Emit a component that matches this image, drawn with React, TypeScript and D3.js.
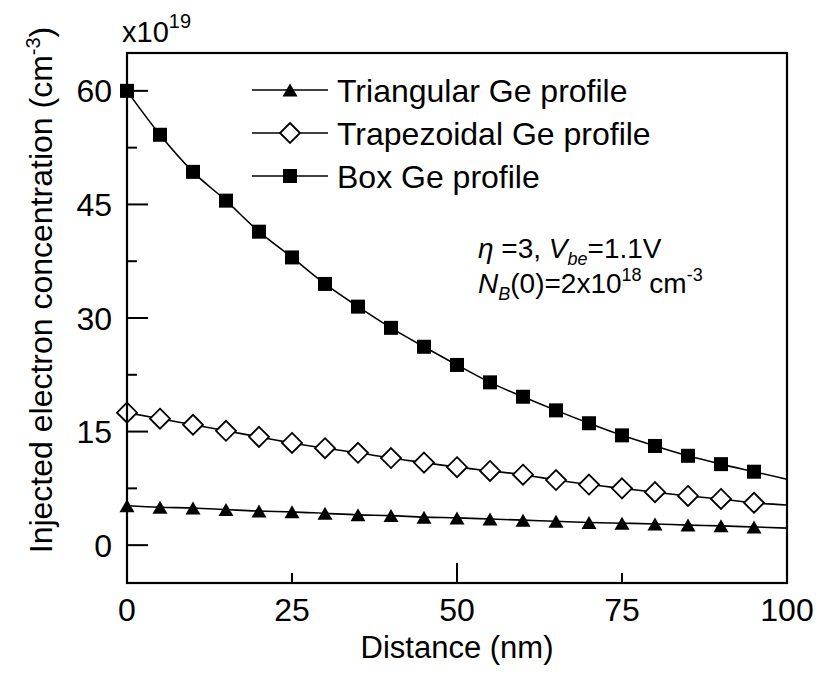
import React from "react";
import * as d3 from "d3";

// Distance from the emitter-base junction (nm)
const distance = [0, 5, 10, 15, 20, 25, 30, 35, 40, 45, 50, 55, 60, 65, 70, 75, 80, 85, 90, 95, 100];

// Injected electron concentration, in units of 1e19 cm^-3
const triangular = [5.2, 5.0, 4.9, 4.7, 4.5, 4.4, 4.2, 4.0, 3.9, 3.7, 3.6, 3.45, 3.3, 3.15, 3.0, 2.9, 2.8, 2.65, 2.55, 2.4, 2.25];
const trapezoidal = [17.5, 16.7, 15.9, 15.1, 14.3, 13.5, 12.8, 12.2, 11.5, 10.9, 10.3, 9.8, 9.3, 8.6, 8.0, 7.5, 7.0, 6.5, 6.1, 5.6, 5.3];
const box = [60, 54.2, 49.3, 45.5, 41.4, 38.0, 34.5, 31.5, 28.7, 26.2, 23.8, 21.5, 19.6, 17.8, 16.1, 14.5, 13.1, 11.8, 10.7, 9.7, 8.7];

const xTicks = [0, 25, 50, 75, 100];
const xMajor = [50];
const yTicks = [0, 15, 30, 45, 60];
const yMinor = [7.5, 22.5, 37.5, 52.5];

const legendLabels = ["Triangular Ge profile", "Trapezoidal Ge profile", "Box Ge profile"];

const W = 820;
const H = 674;
const M = { left: 127, right: 787, top: 53, bottom: 583 };
const FONT = "'Liberation Sans', Arial, Helvetica, sans-serif";

type MarkerKind = "triangle" | "diamond" | "square";

function Marker({ kind, cx, cy }: { kind: MarkerKind; cx: number; cy: number }) {
  if (kind === "square") {
    const s = 14;
    return <rect x={cx - s / 2} y={cy - s / 2} width={s} height={s} fill="#000" />;
  }
  if (kind === "diamond") {
    const r = 10;
    return (
      <path
        d={`M${cx},${cy - r}L${cx + r},${cy}L${cx},${cy + r}L${cx - r},${cy}Z`}
        fill="#fff"
        stroke="#000"
        strokeWidth={1.8}
      />
    );
  }
  const hw = 7.5;
  const hh = 6.5;
  return <path d={`M${cx},${cy - hh}L${cx + hw},${cy + hh}L${cx - hw},${cy + hh}Z`} fill="#000" />;
}

export default function App() {
  const x = d3.scaleLinear().domain([0, 100]).range([M.left, M.right]);
  const y = d3.scaleLinear().domain([-5, 65]).range([M.bottom, M.top]);

  const line = d3
    .line<number>()
    .x((_, i) => x(distance[i]))
    .y((v) => y(v))
    .curve(d3.curveMonotoneX);

  const series: { values: number[]; kind: MarkerKind }[] = [
    { values: triangular, kind: "triangle" },
    { values: trapezoidal, kind: "diamond" },
    { values: box, kind: "square" },
  ];

  const legendY = [90, 133, 176];

  return (
    <svg
      width={W}
      height={H}
      viewBox={`0 0 ${W} ${H}`}
      style={{ position: "absolute", left: 0, top: 0, background: "#fff" }}
      fontFamily={FONT}
    >
      <rect x={0} y={0} width={W} height={H} fill="#fff" />

      {/* curves and markers (markers every 5 nm, curve runs to 100 nm) */}
      {series.map((s, si) => (
        <g key={si}>
          <path d={line(s.values) || ""} fill="none" stroke="#000" strokeWidth={1.6} />
          {s.values.slice(0, -1).map((v, i) => (
            <Marker key={i} kind={s.kind} cx={x(distance[i])} cy={y(v)} />
          ))}
        </g>
      ))}

      {/* frame */}
      <rect
        x={M.left}
        y={M.top}
        width={M.right - M.left}
        height={M.bottom - M.top}
        fill="none"
        stroke="#000"
        strokeWidth={2.2}
      />

      {/* y ticks */}
      {yTicks.map((t) => (
        <g key={t}>
          <line x1={M.left} x2={M.left + 21} y1={y(t)} y2={y(t)} stroke="#000" strokeWidth={2} />
          <text x={112} y={y(t)} dy="0.36em" textAnchor="end" fontSize={32}>
            {t}
          </text>
        </g>
      ))}
      {yMinor.map((t) => (
        <line key={t} x1={M.left} x2={M.left + 10} y1={y(t)} y2={y(t)} stroke="#000" strokeWidth={2} />
      ))}

      {/* x ticks */}
      {xTicks.map((t) => (
        <g key={t}>
          <line
            x1={x(t)}
            x2={x(t)}
            y1={M.bottom}
            y2={M.bottom - (xMajor.includes(t) ? 20 : 10)}
            stroke="#000"
            strokeWidth={2}
          />
          <text x={x(t)} y={621} textAnchor="middle" fontSize={32}>
            {t}
          </text>
        </g>
      ))}

      {/* axis titles */}
      <text x={(M.left + M.right) / 2} y={658} textAnchor="middle" fontSize={31}>
        Distance (nm)
      </text>
      <text transform="translate(52,290) rotate(-90)" textAnchor="middle" fontSize={32}>
        Injected electron concentration (cm
        <tspan fontSize={20} dy={-12}>-3</tspan>
        <tspan dy={12}>)</tspan>
      </text>

      {/* exponent of the y scale */}
      <text x={122} y={42} fontSize={29}>
        x10
        <tspan fontSize={20} dy={-14}>19</tspan>
      </text>

      {/* legend */}
      {series.map((s, i) => (
        <g key={i}>
          <line x1={252} x2={328} y1={legendY[i]} y2={legendY[i]} stroke="#000" strokeWidth={1.6} />
          <Marker kind={s.kind} cx={290} cy={legendY[i]} />
          <text x={337} y={legendY[i]} dy="0.36em" fontSize={32}>
            {legendLabels[i]}
          </text>
        </g>
      ))}

      {/* device parameters */}
      <text x={478} y={258} fontSize={28}>
        <tspan fontStyle="italic">η</tspan>
        <tspan> =3, </tspan>
        <tspan fontStyle="italic">V</tspan>
        <tspan fontStyle="italic" fontSize={18} dy={7}>be</tspan>
        <tspan dy={-7}>=1.1V</tspan>
      </text>
      <text x={478} y={293} fontSize={28}>
        <tspan fontStyle="italic">N</tspan>
        <tspan fontStyle="italic" fontSize={18} dy={7}>B</tspan>
        <tspan dy={-7}>(0)=2x10</tspan>
        <tspan fontSize={18} dy={-12}>18</tspan>
        <tspan dy={12}> cm</tspan>
        <tspan fontSize={18} dy={-12}>-3</tspan>
      </text>
    </svg>
  );
}
